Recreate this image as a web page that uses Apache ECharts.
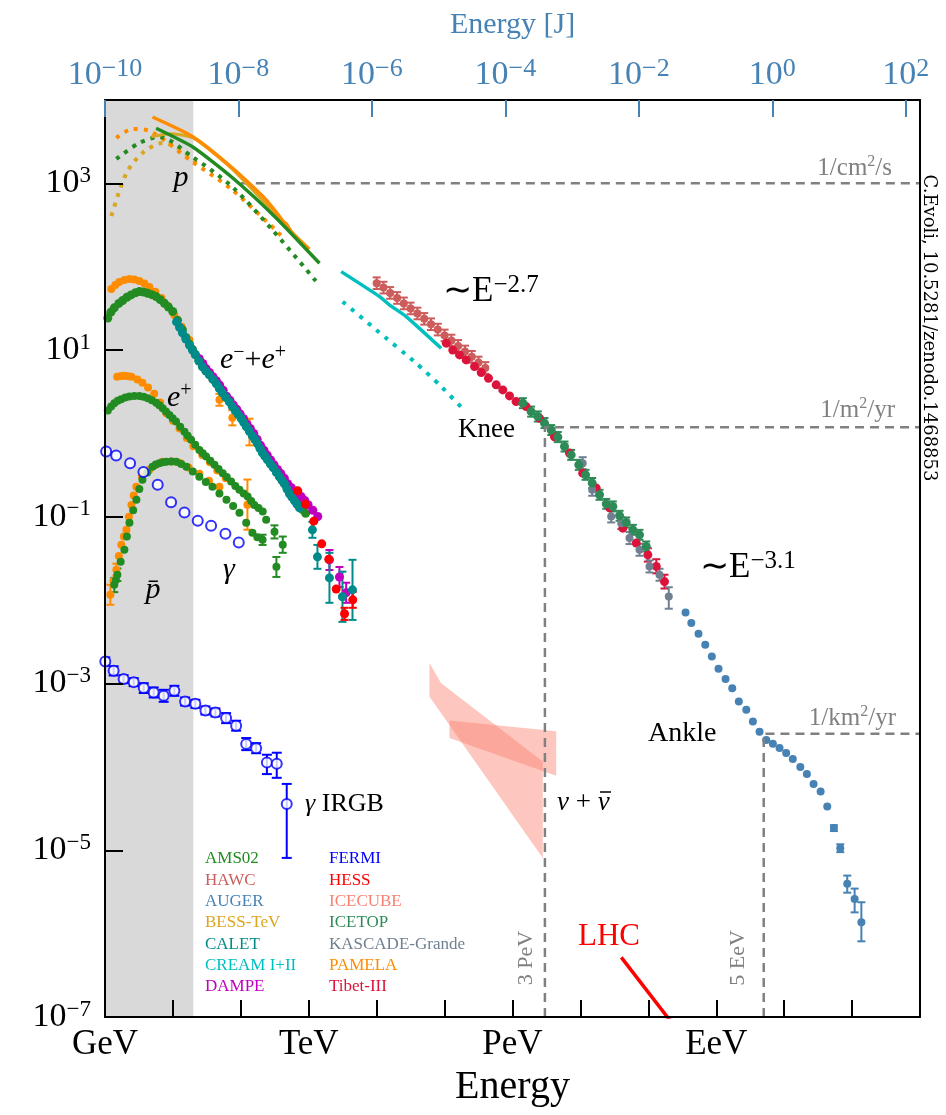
<!DOCTYPE html>
<html><head><meta charset="utf-8">
<script src="https://cdn.jsdelivr.net/npm/echarts@6/dist/echarts.min.js"></script>
<style>html,body{margin:0;padding:0;background:#fff}#c{width:946px;height:1115px}</style>
</head><body><div id="c"></div>
<script>
// ===================== DATA (E in GeV, flux as plotted) =====================
const xTickVals = [1,10,100,1e3,1e4,1e5,1e6,1e7,1e8,1e9,1e10,1e11,1e12];
const xLabelVals = [1,1e3,1e6,1e9];
const xLabelNames = ['GeV','TeV','PeV','EeV'];
const topTickVals = [1e-10,1e-8,1e-6,1e-4,1e-2,1,1e2];   // Joules
const yTickVals = [1e-7,1e-5,1e-3,1e-1,1e1,1e3];
const bandRange = [1, 20];

// protons
const pamelaP = [[5.0,6250],[19.6,3630],[76,1517],[236,632],[581,252],[1023,162]];
const amsP = [[5.66,4580],[19.6,2730],[76,1160],[331,385],[1439,110]];
const bessP = [[4.8,3630],[8.9,3950],[20,3500],[75,1480],[410,350],[470,330],[560,255]];
const pamelaPDot = [[1.47,3500],[2.54,4490],[4.5,4250],[19.4,1810],[75,834],[410,228]];
const amsPDot = [[1.47,1960],[3.2,3050],[6.3,3600],[19.4,2080],[75,905],[292,276],[1340,64]];
const bessPDot = [[1.24,406],[2.07,1330],[3.56,2310],[7.0,3050],[11.2,2730],[24.5,1660]];
const creamLine = [[3000,87.3],[11000,43.9],[15400,34.9],[27200,25.2],[89100,10.5]];
const creamDot = [[3160,38.1],[9840,17.5],[38200,6.97],[84100,3.83],[176000,2.07]];

// all-particle  [E, F, low, high]
const hawc = [[1.0e4,63.4,54,74.5],[1.26e4,56.2,47.8,66],[1.58e4,48.5,41.3,57],[2.0e4,42.2,35.9,49.6],[2.51e4,36.3,30.9,42.7],[3.16e4,31.6,26.9,37.1],[3.98e4,27.5,23.4,32.3],[5.01e4,23.7,20.2,27.8],[6.31e4,20.4,17.4,24],[7.94e4,17.6,15,20.7],[1.0e5,15.0,12.8,17.6],[1.26e5,13.0,11.1,15.3],[1.58e5,11.2,9.5,13.2],[2.0e5,9.6,8.2,11.3],[2.51e5,8.3,7.06,9.75],[3.16e5,7.1,6.04,8.34],[3.98e5,6.1,5.19,7.17]];
const tibet = [[1.06e5,12.1],[1.32e5,10.0],[1.66e5,8.75],[2.08e5,7.62],[2.76e5,6.34],[3.46e5,5.37],[4.43e5,4.6],[5.75e5,3.83],[7.2e5,3.33],[9.04e5,2.82],[1.13e6,2.41],[1.59e6,2.1],[2.5e6,1.52],[4.15e6,0.912],[6.9e6,0.581],[1.08e7,0.334],[1.71e7,0.221],[2.69e7,0.128],[4.21e7,0.0731],[6.64e7,0.0484],[9.84e7,0.035],[1.31e8,0.0254],[1.73e8,0.0167]];
const tibetErr = [[9.84e7,0.035,0.029,0.042],[1.31e8,0.0254,0.021,0.031],[1.73e8,0.0167,0.0138,0.0202]];
const icetop = [[1.42e6,2.31,2.01,2.65],[1.88e6,1.83,1.59,2.1],[2.36e6,1.6,1.39,1.84],[2.96e6,1.33,1.16,1.53],[3.72e6,1.1,0.958,1.26],[4.65e6,0.904,0.787,1.04],[5.83e6,0.697,0.607,0.8],[7.31e6,0.553,0.482,0.635],[9.46e6,0.42,0.366,0.482],[1.19e7,0.319,0.278,0.366],[1.49e7,0.254,0.221,0.292],[1.91e7,0.184,0.16,0.211],[2.4e7,0.143,0.125,0.164],[3.0e7,0.133,0.116,0.153],[3.77e7,0.103,0.0897,0.118],[4.73e7,0.0855,0.0745,0.0982],[5.92e7,0.0698,0.0608,0.0801],[7.41e7,0.0608,0.053,0.0698],[9.31e7,0.0441,0.0384,0.0506]];
const kascade = [[1.08e7,0.44,0.373,0.519],[1.49e7,0.211,0.179,0.249],[2.84e7,0.101,0.0856,0.119],[3.99e7,0.084,0.0712,0.0991],[5.28e7,0.0556,0.0471,0.0656],[7.41e7,0.0402,0.0341,0.0474],[1.04e8,0.0254,0.0215,0.03],[1.46e8,0.0202,0.0171,0.0238],[2.0e8,0.0111,0.0079,0.0143]];
const auger = [[3.53e8,7.13e-3],[4.29e8,5.31e-3],[5.48e8,3.95e-3],[6.89e8,2.92e-3],[8.61e8,2.11e-3],[1.08e9,1.5e-3],[1.37e9,1.13e-3],[1.72e9,8.81e-4],[2.15e9,6.08e-4],[2.77e9,4.84e-4],[3.46e9,3.5e-4],[4.34e9,2.65e-4],[5.45e9,2.11e-4],[6.82e9,1.89e-4],[8.55e9,1.69e-4],[1.07e10,1.47e-4],[1.34e10,1.24e-4],[1.73e10,9.98e-5],[2.16e10,8.22e-5],[2.71e10,6.24e-5],[3.44e10,5.08e-5],[4.31e10,3.36e-5],[5.4e10,1.85e-5],[6.7e10,1.06e-5],[8.49e10,3.98e-6],[1.09e11,2.61e-6],[1.37e11,1.37e-6]];
const augerErr = [[5.4e10,1.85e-5,1.7e-5,2.0e-5],[6.7e10,1.06e-5,0.95e-5,1.18e-5],[8.49e10,3.98e-6,3.1e-6,4.97e-6],[1.09e11,2.61e-6,1.8e-6,3.47e-6],[1.37e11,1.37e-6,8.09e-7,2.38e-6]];

// electrons + positrons
const amsLep = [[1.1,24.2],[1.22,28.5],[1.37,32.1],[1.6,36.3],[1.82,39.3],[2.1,43],[2.42,45.9],[2.8,48.6],[3.21,50.3],[3.7,49.8],[4.26,48.1],[4.9,46.2],[5.66,43.8],[6.5,40.3],[7.5,36.5],[8.6,32.8],[9.93,29.0],[11.7,22.8],[13.8,17.5],[15.5,14.2],[17.5,11.8],[19.4,10.2],[21.4,8.9],[24.1,7.5],[27.2,6.4],[30.6,5.7],[34.4,5.1],[38.8,4.5],[43.6,4.0],[48.3,3.5],[53.5,3.1],[60.3,2.75],[67.9,2.42],[75,2.15],[83.2,1.9],[92,1.7],[102,1.52],[111,1.36],[121,1.22],[134,1.08],[148,0.95],[162,0.85],[176,0.76],[192,0.67],[208,0.59],[227,0.54],[247,0.49],[273,0.44],[302,0.39],[335,0.345],[371,0.305],[405,0.275],[439,0.25],[478,0.222],[520,0.2],[565,0.182],[617,0.165],[672,0.15],[731,0.135],[810,0.122],[900,0.11]];
const pamelaLep = [[1.24,54.2],[1.42,60.5],[1.62,65.8],[1.93,69.5],[2.29,71.4],[2.7,70.2],[3.2,67.6],[3.8,62.8],[4.5,57.3],[5.5,50],[6.8,42.3],[8.5,33.8],[10.5,26.4],[13.5,19],[17.5,13.2]];
const pamelaLepErr = [[48.4,2.53,2.15,2.98],[75,1.54,1.25,1.9],[134,1.05,0.72,1.5]];
const calet = [[11.3,21.8],[12.5,18.8],[13.8,16.1],[15.5,13.6],[17.5,11.5],[19.4,10.0],[21.4,8.75],[24.1,7.4],[27.2,6.3],[30.6,5.6],[34.4,5.05],[38.8,4.45],[43.6,3.94],[48.3,3.45],[53.5,3.07],[60.3,2.7],[67.9,2.39],[75,2.1],[83.2,1.87],[92,1.68],[102,1.5],[111,1.35],[121,1.2],[134,1.06],[148,0.935],[162,0.84],[176,0.75],[192,0.66],[208,0.585],[227,0.53],[247,0.482],[273,0.43],[302,0.387],[335,0.34],[371,0.302],[405,0.272],[439,0.249],[478,0.215],[520,0.189],[565,0.172],[617,0.156],[672,0.141],[731,0.128]];
const caletTail = [[1132,0.0698,0.056,0.087],[1343,0.0331,0.0238,0.046],[2018,0.0185,0.0093,0.037],[3133,0.011,0.0055,0.022],[4406,0.0133,0.0058,0.0305]];
const dampe = [[24.5,7.9],[27.5,6.9],[30.8,6.0],[34.6,5.4],[38.8,4.8],[43.6,4.3],[48.9,3.8],[54.9,3.3],[61.7,2.8],[69.2,2.5],[77.6,2.2],[87,1.95],[97.7,1.72],[110,1.5],[123,1.3],[138,1.15],[155,1.0],[174,0.85],[195,0.72],[219,0.63],[245,0.55],[275,0.48],[309,0.42],[347,0.37],[389,0.33],[437,0.29],[490,0.25],[550,0.225],[617,0.205],[692,0.19],[776,0.175],[871,0.157],[977,0.14],[1150,0.12],[1358,0.101]];
const dampeTail = [[2018,0.0305,0.023,0.04],[2831,0.019,0.0144,0.025],[3556,0.0123,0.0093,0.0162]];
const hess = [[689,0.205],[894,0.142],[1186,0.0887],[1552,0.0474],[1972,0.031],[2535,0.0136],[3365,0.00687],[4446,0.0101]];
const hessErr = [[3365,0.00687,0.0058,0.0081],[4446,0.0101,0.0081,0.0126]];

// positrons
const amsPos = [[1.1,1.88],[1.23,2.1],[1.37,2.31],[1.54,2.46],[1.73,2.58],[1.99,2.7],[2.29,2.77],[2.7,2.81],[3.21,2.82],[3.7,2.75],[4.26,2.65],[4.9,2.5],[5.66,2.34],[6.3,2.18],[7.08,2.01],[7.9,1.84],[8.88,1.67],[9.9,1.52],[11.1,1.39],[12.8,1.2],[14.8,1.05],[16.5,0.94],[18.5,0.838],[21.3,0.73],[24.5,0.635],[27.5,0.58],[30.8,0.528],[35.5,0.47],[40.9,0.42],[47,0.375],[54.1,0.334],[62,0.3],[71.9,0.265],[83,0.235],[95.3,0.211],[110,0.19],[126,0.175],[142,0.155],[158,0.139],[182,0.128],[210,0.116],[236,0.092]];
const amsPosErr = [[313,0.066,0.055,0.079],[414,0.0461,0.037,0.058]];
const pamelaPos = [[1.51,4.78],[1.72,4.9],[1.93,4.91],[2.2,4.85],[2.45,4.78],[3.0,4.45],[3.56,4.05],[4.3,3.55],[5.3,3.0],[6.5,2.35],[8.0,1.75],[10,1.42],[12.5,1.15],[16,0.88],[20,0.7],[27,0.55],[35,0.45],[45,0.36],[60,0.29]];
const pamelaPosErr = [[125,0.14,0.07,0.28]];

// antiprotons
const amsPbar = [[1.37,0.0153],[1.45,0.0175],[1.52,0.0202],[1.7,0.029],[1.93,0.0402],[2.1,0.058],[2.29,0.0847],[2.6,0.12],[2.9,0.16],[3.2,0.215],[3.56,0.278],[4.2,0.34],[5.0,0.398],[5.6,0.425],[6.3,0.44],[7.1,0.452],[8.0,0.457],[9.5,0.46],[11.2,0.457],[13.3,0.43],[15.8,0.398],[19.6,0.35],[24.5,0.302],[30.5,0.262],[38.2,0.229],[48.4,0.19],[61.4,0.16],[77,0.135],[95.5,0.112],[120,0.085],[148,0.0643],[175,0.057],[209,0.053]];
const amsPbarErr = [[1.37,0.0153,0.0125,0.0185],[1.52,0.0202,0.017,0.024],[209,0.053,0.046,0.061],[334,0.0251,0.019,0.033]];
const pamelaPbar = [[1.2,0.0116],[1.33,0.017],[1.47,0.0232],[1.6,0.034],[1.74,0.0461],[1.9,0.058],[2.07,0.0698],[2.25,0.1],[2.45,0.139],[2.65,0.18],[2.9,0.229],[3.5,0.3],[4.5,0.366],[5.6,0.42],[7.0,0.457],[9.5,0.46],[12.5,0.445],[17,0.39],[24.5,0.328],[34,0.27],[48.4,0.229]];
const pamelaPbarErr = [[1.2,0.0116,0.0088,0.0153],[1.47,0.0232,0.0197,0.0274]];

// gamma rays
const fermiDiffuse = [[1.04,0.607],[1.46,0.543],[2.34,0.44],[3.68,0.344],[5.97,0.242],[9.4,0.15],[14.8,0.113],[23.2,0.0895],[36.5,0.078],[59.3,0.0625],[93.2,0.0492]];
const fermiIrgb = [[1.01,1.84e-3,1.65e-3,2.06e-3],[1.34,1.42e-3,1.25e-3,1.61e-3],[1.88,1.13e-3,1.01e-3,1.26e-3],[2.65,1.04e-3,9.3e-4,1.16e-3],[3.72,8.83e-4,7.7e-4,1.01e-3],[5.21,7.82e-4,6.8e-4,8.98e-4],[7.31,7.13e-4,6.04e-4,8.41e-4],[10.5,8.18e-4,7.13e-4,9.39e-4],[15.1,6.09e-4,5.45e-4,6.8e-4],[21.4,5.71e-4,5.11e-4,6.38e-4],[30.1,4.75e-4,4.25e-4,5.31e-4],[42.2,4.5e-4,4.03e-4,5.03e-4],[60.7,3.85e-4,3.35e-4,4.42e-4],[85.3,3.12e-4,2.72e-4,3.58e-4],[120,1.88e-4,1.59e-4,2.22e-4],[168,1.68e-4,1.46e-4,1.93e-4],[242,1.13e-4,8.2e-5,1.4e-4],[338,1.09e-4,7.4e-5,1.48e-4],[474,3.59e-5,8.1e-6,6.25e-5]];

// neutrinos (IceCube bands, polygon vertices)
const icecubeBand1 = [[5.98e4,1.76e-3],[8.91e4,1.01e-3],[2.79e6,1.16e-4],[2.79e6,8.09e-6],[5.98e4,7.0e-4]];
const icecubeBand2 = [[1.18e5,3.6e-4],[4.4e6,2.67e-4],[4.4e6,7.84e-5],[1.18e5,2.22e-4]];

// guide lines
const guideCm2s = [[100,1000],[1e12,1000]];
const guideKnee = [[3e6,1e-7],[3e6,1.19],[1e12,1.19]];
const guideAnkle = [[5e9,1e-7],[5e9,2.5e-4],[1e12,2.5e-4]];
const lhcLine = [[4.0e7,5.2e-7],[2.5e8,7.5e-8]];

// ===================== CHART =====================
const FONT = 'Liberation Serif';
const COL = {AMS02:'#228B22', HAWC:'#CD5C5C', AUGER:'#4682B4', BESS:'#DAA520', CALET:'#008B8B', CREAM:'#00BFBF', DAMPE:'#BF00BF', FERMI:'#0000FF', HESS:'#FF0000', ICECUBE:'#FA8072', ICETOP:'#2E8B57', KASCADE:'#708090', PAMELA:'#FF8C00', TIBET:'#DC143C'};
const GRAY = '#808080', STEEL = '#4682B4';

function expLabel(v){
  const e = Math.round(Math.log10(v));
  return '{b|10}{s|' + (e < 0 ? '\u2212' : '') + Math.abs(e) + '}';
}
function errBars(color, cap, lw){
  return function(params, api){
    const x = api.value(0);
    const a = api.coord([x, api.value(2)]), b = api.coord([x, api.value(3)]);
    const st = () => ({stroke: color, lineWidth: lw, fill: null});
    return {type:'group', children:[
      {type:'line', shape:{x1:a[0], y1:a[1], x2:b[0], y2:b[1]}, style: st()},
      {type:'line', shape:{x1:a[0]-cap, y1:a[1], x2:a[0]+cap, y2:a[1]}, style: st()},
      {type:'line', shape:{x1:b[0]-cap, y1:b[1], x2:b[0]+cap, y2:b[1]}, style: st()}
    ]};
  };
}
function pts(name, data, color, size){
  return {type:'scatter', name, data, symbol:'circle', symbolSize:size||8, itemStyle:{color, opacity:1}, silent:true, clip:true};
}
function errs(name, data, color, cap){
  return {type:'custom', name, data, renderItem: errBars(color, cap||4, 2), encode:{x:0, y:1}, silent:true, clip:true};
}
function line(name, data, color, width, dash, smooth){
  return {type:'line', name, data, showSymbol:false, symbol:'none', smooth: smooth||0, silent:true, clip:true,
    lineStyle:{color, width, type: dash||'solid', cap: 'butt'}};
}
function poly(name, verts, fill){
  return {type:'custom', name, data: verts, silent:true, clip:true, encode:{x:0,y:1},
    renderItem: function(params, api){
      if (params.dataIndex !== 0) return null;
      return {type:'polygon', shape:{points: verts.map(p => api.coord(p))}, style:{fill, stroke:null}};
    }};
}

const series = [
  {type:'line', name:'band', data:[], silent:true, z:1,
   markArea:{silent:true, itemStyle:{color:'#d9d9d9'}, data:[[{xAxis:bandRange[0]},{xAxis:bandRange[1]}]]}},
  line('guide', guideCm2s, GRAY, 2.5, [9,6]),
  line('guide', guideKnee, GRAY, 2.5, [9,6]),
  line('guide', guideAnkle, GRAY, 2.5, [9,6]),
  poly('ICECUBE', icecubeBand1, 'rgba(250,128,114,0.45)'),
  poly('ICECUBE', icecubeBand2, 'rgba(250,128,114,0.45)'),
  // protons
  line('BESS-TeV', bessPDot, COL.BESS, 4, [4,6], 0.3),
  line('PAMELA', pamelaPDot, COL.PAMELA, 4, [4,6], 0.3),
  line('AMS02', amsPDot, COL.AMS02, 4, [4,6], 0.3),
  line('BESS-TeV', bessP, COL.BESS, 3, 'solid', 0.2),
  line('PAMELA', pamelaP, COL.PAMELA, 3.5, 'solid', 0.2),
  line('AMS02', amsP, COL.AMS02, 3.5, 'solid', 0.2),
  line('CREAM I+II', creamDot, COL.CREAM, 4, [4,7], 0.2),
  line('CREAM I+II', creamLine, COL.CREAM, 3.5, 'solid', 0.2),
  // PAMELA points
  pts('PAMELA', pamelaLep, COL.PAMELA, 8),
  errs('PAMELA', pamelaLepErr, COL.PAMELA), pts('PAMELA', pamelaLepErr, COL.PAMELA, 8),
  pts('PAMELA', pamelaPos, COL.PAMELA, 8),
  errs('PAMELA', pamelaPosErr, COL.PAMELA), pts('PAMELA', pamelaPosErr, COL.PAMELA, 8),
  errs('PAMELA', pamelaPbarErr, COL.PAMELA),
  pts('PAMELA', pamelaPbar, COL.PAMELA, 8),
  // AMS02 points
  pts('AMS02', amsLep, COL.AMS02, 9),
  pts('AMS02', amsPos, COL.AMS02, 8),
  errs('AMS02', amsPosErr, COL.AMS02), pts('AMS02', amsPosErr, COL.AMS02, 8),
  errs('AMS02', amsPbarErr, COL.AMS02),
  pts('AMS02', amsPbar, COL.AMS02, 8), pts('AMS02', amsPbarErr.slice(3), COL.AMS02, 8),
  // DAMPE / CALET / HESS
  pts('DAMPE', dampe, COL.DAMPE, 9),
  errs('DAMPE', dampeTail, COL.DAMPE), pts('DAMPE', dampeTail, COL.DAMPE, 9),
  pts('CALET', calet, COL.CALET, 9),
  errs('CALET', caletTail, COL.CALET), pts('CALET', caletTail, COL.CALET, 9),
  pts('HESS', hess, COL.HESS, 9),
  errs('HESS', hessErr, COL.HESS),
  // gamma
  {type:'scatter', name:'FERMI', data: fermiDiffuse, symbol:'circle', symbolSize:10, silent:true,
   itemStyle:{color:'#fff', borderColor:COL.FERMI, borderWidth:2}},
  errs('FERMI', fermiIrgb, COL.FERMI, 5),
  {type:'scatter', name:'FERMI', data: fermiIrgb, symbol:'circle', symbolSize:10, silent:true,
   itemStyle:{color:'#fff', borderColor:COL.FERMI, borderWidth:2}},
  // all particle
  errs('HAWC', hawc, COL.HAWC, 4), pts('HAWC', hawc, COL.HAWC, 8),
  pts('Tibet-III', tibet, COL.TIBET, 9), errs('Tibet-III', tibetErr, COL.TIBET),
  errs('KASCADE-Grande', kascade, COL.KASCADE), pts('KASCADE-Grande', kascade, COL.KASCADE, 8),
  errs('ICETOP', icetop, COL.ICETOP), pts('ICETOP', icetop, COL.ICETOP, 9),
  pts('AUGER', auger, COL.AUGER, 8), errs('AUGER', augerErr, COL.AUGER),
  line('LHC', lhcLine, '#FF0000', 3.5)
];

// ---------- text helpers ----------
function T(x, y, text, size, color, extra){
  extra = extra || {};
  return Object.assign({type:'text', x, y, silent:true, z:100,
    style: Object.assign({text, fontFamily:FONT, fontSize:size, fill:color||'#000', align:'left', verticalAlign:'middle'}, extra.style||{})},
    extra.el||{});
}
function supRich(base, sup, color){
  return {
    i:{fontFamily:FONT, fontSize:base, fill:color, lineHeight:base+4, fontStyle:'italic'},
    n:{fontFamily:FONT, fontSize:base, fill:color, lineHeight:base+4},
    s:{fontFamily:FONT, fontSize:sup, fill:color, lineHeight:sup-2, verticalAlign:'top'}
  };
}

const legendCol1 = [['AMS02',COL.AMS02],['HAWC',COL.HAWC],['AUGER',COL.AUGER],['BESS-TeV',COL.BESS],['CALET',COL.CALET],['CREAM I+II',COL.CREAM],['DAMPE',COL.DAMPE]];
const legendCol2 = [['FERMI',COL.FERMI],['HESS',COL.HESS],['ICECUBE',COL.ICECUBE],['ICETOP',COL.ICETOP],['KASCADE-Grande',COL.KASCADE],['PAMELA',COL.PAMELA],['Tibet-III',COL.TIBET]];

const graphics = [];
legendCol1.forEach((it,i) => graphics.push(T(205, 859 + i*21.3, it[0], 17, it[1])));
legendCol2.forEach((it,i) => graphics.push(T(329, 859 + i*21.3, it[0], 17, it[1])));

graphics.push(T(181, 178, 'p', 30, '#000', {style:{fontStyle:'italic', align:'center'}}));
graphics.push(T(220, 360, '{i|e}{s|\u2212}{n|+}{i|e}{s|+}', 30, '#000', {style:{rich: supRich(30,20,'#000')}}));
graphics.push(T(167, 398, '{i|e}{s|+}', 30, '#000', {style:{rich: supRich(30,20,'#000')}}));
graphics.push(T(229, 570, '\u03B3', 30, '#000', {style:{fontStyle:'italic', align:'center'}}));
graphics.push(T(153, 590, 'p\u0304', 30, '#000', {style:{fontStyle:'italic', align:'center'}}));
graphics.push(T(305, 804, '{i|\u03B3} {n|IRGB}', 26, '#000', {style:{rich: supRich(26,17,'#000')}}));
graphics.push(T(443, 292, '{n|\u223CE}{s|\u22122.7}', 35, '#000', {style:{rich: supRich(35,25,'#000')}}));
graphics.push(T(458, 430, 'Knee', 27, '#000'));
graphics.push(T(700, 568, '{n|\u223CE}{s|\u22123.1}', 35, '#000', {style:{rich: supRich(35,25,'#000')}}));
graphics.push(T(648, 734, 'Ankle', 28, '#000'));
graphics.push(T(557, 803, '{i|\u03BD} {n|+} {i|\u03BD}', 27, '#000', {style:{rich: supRich(27,18,'#000')}}));
graphics.push({type:'line', silent:true, z:100, shape:{x1:600, y1:792, x2:611, y2:792}, style:{stroke:'#000', lineWidth:1.5}});
graphics.push(T(578, 937, 'LHC', 31, '#FF0000'));
graphics.push(T(526, 958, '3 PeV', 22, GRAY, {style:{align:'center'}, el:{rotation: Math.PI/2}}));
graphics.push(T(738, 958, '5 EeV', 22, GRAY, {style:{align:'center'}, el:{rotation: Math.PI/2}}));
graphics.push(T(892, 168, '{n|1/cm}{s|2}{n|/s}', 25, GRAY, {style:{align:'right', rich: supRich(25,16,GRAY)}}));
graphics.push(T(895, 410, '{n|1/m}{s|2}{n|/yr}', 25, GRAY, {style:{align:'right', rich: supRich(25,16,GRAY)}}));
graphics.push(T(896, 718, '{n|1/km}{s|2}{n|/yr}', 25, GRAY, {style:{align:'right', rich: supRich(25,16,GRAY)}}));
graphics.push(T(929, 328, 'C.Evoli, 10.5281/zenodo.1468853', 18, '#000', {style:{align:'center', fontFamily:'DejaVu Serif'}, el:{rotation: -Math.PI/2}}));

const axisRich = (color, b, s) => ({
  b:{fontFamily:FONT, fontSize:b, color, lineHeight:b+4},
  s:{fontFamily:FONT, fontSize:s, color, lineHeight:s-2, verticalAlign:'top'}
});

const option = {
  animation: false,
  backgroundColor: '#fff',
  grid: {left:105, right:26, top:100, bottom:98, containLabel:false},
  xAxis: [
    {type:'log', logBase:10, min:1, max:1e12, position:'bottom', z:5,
     axisLine:{show:true, onZero:false, lineStyle:{color:'#000', width:2}},
     axisTick:{show:true, inside:true, length:17, lineStyle:{color:'#000', width:2}, customValues:xTickVals},
     axisLabel:{show:true, customValues:xLabelVals, margin:10, fontFamily:FONT, fontSize:35, color:'#000',
       formatter: v => { const i = xLabelVals.findIndex(t => Math.abs(Math.log10(t) - Math.log10(v)) < 0.01); return i >= 0 ? xLabelNames[i] : ''; }},
     splitLine:{show:false}, minorTick:{show:false},
     name:'Energy', nameLocation:'middle', nameGap:50,
     nameTextStyle:{fontFamily:FONT, fontSize:40, color:'#000'}},
    {type:'log', logBase:10, min:1e-10, max:163.7, position:'top', z:5,
     axisLine:{show:true, onZero:false, lineStyle:{color:'#000', width:2}},
     axisTick:{show:true, inside:true, length:17, lineStyle:{color:STEEL, width:2}, customValues:topTickVals},
     axisLabel:{show:true, customValues:topTickVals, margin:6, formatter: expLabel, rich: axisRich(STEEL, 34, 26)},
     splitLine:{show:false},
     name:'Energy [J]', nameLocation:'middle', nameGap:60,
     nameTextStyle:{fontFamily:FONT, fontSize:30, color:STEEL}}
  ],
  yAxis: [
    {type:'log', logBase:10, min:1e-7, max:1e4, position:'left', z:5,
     axisLine:{show:true, onZero:false, lineStyle:{color:'#000', width:2}},
     axisTick:{show:true, inside:true, length:18, lineStyle:{color:'#000', width:2}, customValues:yTickVals},
     axisLabel:{show:true, customValues:yTickVals, margin:14, formatter: expLabel, rich: axisRich('#000', 34, 23)},
     splitLine:{show:false}},
    {type:'log', logBase:10, min:1e-7, max:1e4, position:'right', z:5,
     axisLine:{show:true, onZero:false, lineStyle:{color:'#000', width:2}},
     axisTick:{show:false}, axisLabel:{show:false}, splitLine:{show:false}}
  ],
  series: series,
  graphic: graphics
};

const chart = echarts.init(document.getElementById('c'), null, {renderer:'canvas', width:946, height:1115});
chart.setOption(option);
</script></body></html>
